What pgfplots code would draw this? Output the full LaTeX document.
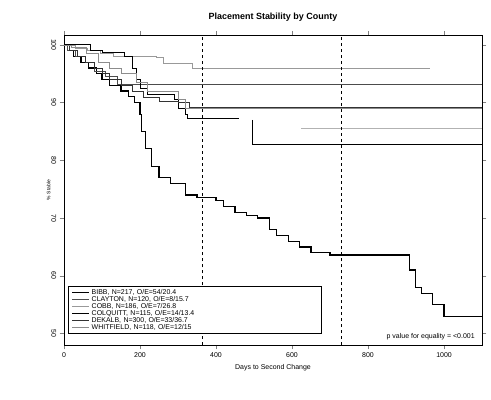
\documentclass[border=0pt]{standalone}
\usepackage{pgfplots}
\pgfplotsset{compat=1.18}
\usepackage{fontspec}
\setmainfont{Liberation Sans}
\begin{document}
\begin{tikzpicture}
\begin{axis}[width=418bp,height=310bp,scale only axis,clip=false,
 xmin=0,xmax=1100,ymin=48,ymax=101.7,
 xtick={0,200,400,600,800,1000},ytick={50,60,70,80,90,100},
 xticklabel style={/pgf/number format/1000 sep={}},
 tick label style={font=\scriptsize},
 yticklabel style={rotate=-90,anchor=north},
 /pgf/number format/assume math mode=true,
 title={\bfseries\small Placement Stability by County},
 title style={yshift=4bp},
 xlabel={\scriptsize Days to Second Change},ylabel={\tiny \% Stable},
 ylabel style={yshift=-6bp},
 tick align=outside, axis line style={thick},
 legend style={at={(0.01,0.035)},anchor=south west,font=\scriptsize,draw=black,thick,legend cell align=left,text width=225bp,inner ysep=1pt,row sep=-3.5pt},
 legend image post style={sharp plot}]
\addplot[const plot,black,very thick] coordinates {(0,100)(10,99)(25,98)(45,97)(65,96)(85,95)(100,94)(120,93)(150,92)(170,91)(185,90)(200,88)(205,85)(215,82)(230,79)(250,77)(280,76)(320,74)(350,73.5)(400,73)(420,72)(450,71)(480,70.5)(510,70)(540,68)(560,67)(590,66)(620,65)(650,64)(700,63.6)(880,63.6)(910,61)(925,58)(940,57)(970,55)(1000,53)(1100,53)};
\addlegendentry{BIBB, N=217, O/E=54/20.4}
\addplot[const plot,black!70,semithick] coordinates {(0,100)(10,99)(30,98)(55,97)(80,95.5)(110,94.5)(140,93.1)(1100,93.1)};
\addlegendentry{CLAYTON, N=120, O/E=8/15.7}
\addplot[const plot,black!40,thin] coordinates {(0,100)(30,99.5)(60,99)(95,98.5)(130,98)(243,97.8)(260,96.8)(338,95.9)(963,95.9)};
\addlegendentry{COBB, N=186, O/E=7/26.8}
\addplot[const plot,black,thick] coordinates {(0,100)(70,99)(100,98.7)(160,98)(180,96)(190,94)(200,92.5)(220,91.5)(290,90.5)(300,89)(320,88)(325,87.2)(460,87.2)};
\addlegendentry{COLQUITT, N=115, O/E=14/13.4}
\addplot[const plot,black!80,semithick] coordinates {(0,100)(15,99)(35,98)(55,97)(80,96)(100,95)(120,94)(150,93)(180,92)(210,91)(250,90.3)(300,90)(330,89.2)(1100,89.2)};
\addlegendentry{DEKALB, N=300, O/E=33/36.7}
\addplot[const plot,black!45,semithick] coordinates {(0,100)(20,99.5)(60,98.5)(90,97)(120,96)(150,95)(190,93.5)(220,92)(300,90.5)(320,89)(1100,89)};
\addlegendentry{WHITFIELD, N=118, O/E=12/15}
\addplot[const plot,black,thick,forget plot] coordinates {(497,87)(497,82.7)(1100,82.7)};
\addplot[const plot,black!30,thin,forget plot] coordinates {(625,85.5)(1100,85.5)};
\addplot[black,thick,dashed,forget plot] coordinates {(365,48)(365,101.7)};
\addplot[black,thick,dashed,forget plot] coordinates {(730,48)(730,101.7)};
\node[font=\scriptsize,anchor=south east] at (axis cs:1090,48.2) {p value for equality = <0.001};
\path (rel axis cs:-0.153,1.113) (rel axis cs:1.0215,-0.177);
\end{axis}
\end{tikzpicture}
\end{document}
